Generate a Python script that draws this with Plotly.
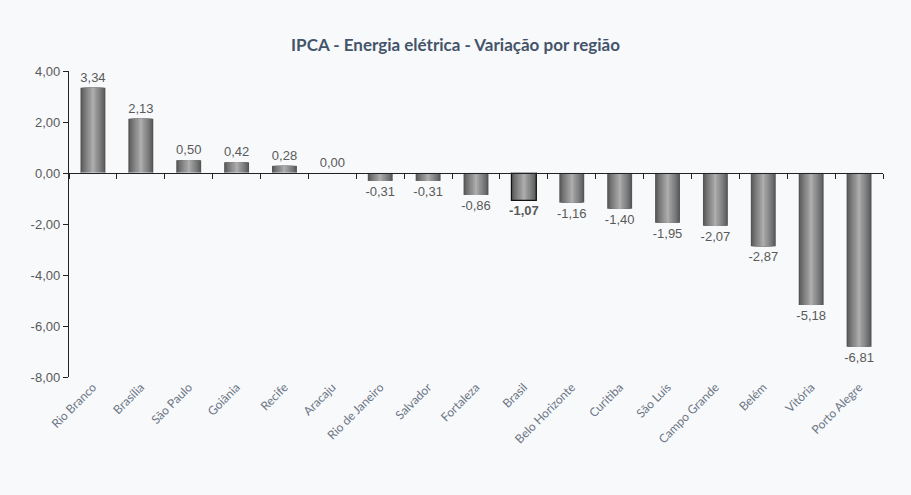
import plotly.graph_objects as go

categories = ["Rio Branco", "Brasília", "São Paulo", "Goiânia", "Recife", "Aracaju",
              "Rio de Janeiro", "Salvador", "Fortaleza", "Brasil", "Belo Horizonte",
              "Curitiba", "São Luís", "Campo Grande", "Belém", "Vitória", "Porto Alegre"]
values = [3.34, 2.13, 0.50, 0.42, 0.28, 0.00, -0.31, -0.31, -0.86, -1.07, -1.16,
          -1.40, -1.95, -2.07, -2.87, -5.18, -6.81]
highlight = "Brasil"
y_ticks = [4, 2, 0, -2, -4, -6, -8]
y_ticktext = [("%.2f" % v).replace(".", ",") for v in y_ticks]

fig = go.Figure()

# gradient simulation: overlaid layers, dark edges to light centre
n_layers = 10
max_w = 0.52
dark = (85, 85, 85)
light = (172, 172, 172)
for i in range(n_layers):
    t = i / (n_layers - 1)
    w = max_w * (1 - t) + 0.02 * t
    c = tuple(int(dark[k] + (light[k] - dark[k]) * (t ** 0.8)) for k in range(3))
    fig.add_trace(go.Bar(
        x=categories, y=values, width=w,
        marker=dict(color="rgb(%d,%d,%d)" % c, line=dict(width=0)),
        hoverinfo="skip", showlegend=False,
    ))

labels = []
for c, v in zip(categories, values):
    s = ("%.2f" % v).replace(".", ",")
    labels.append("<b>%s</b>" % s if c == highlight else s)

fig.add_trace(go.Bar(
    x=categories, y=values, width=max_w,
    marker=dict(color="rgba(0,0,0,0)",
                line=dict(color="#111111",
                          width=[1.2 if c == highlight else 0 for c in categories])),
    text=labels, textposition="outside", texttemplate="%{text}",
    constraintext="none",
    textfont=dict(family="Liberation Sans, Arial", size=13, color="#595959"),
    cliponaxis=False, showlegend=False,
))

# invisible trace on xaxis2 for zero-line axis with boundary ticks
fig.add_trace(go.Bar(x=categories, y=[0] * len(categories), xaxis="x2",
                     marker=dict(color="rgba(0,0,0,0)"), hoverinfo="skip",
                     showlegend=False))

lo, hi = -8, 4
fig.update_layout(
    width=911, height=495,
    margin=dict(l=69, r=28, t=71, b=118),
    paper_bgcolor="#f8f9fb", plot_bgcolor="#f8f9fb",
    barmode="overlay", bargap=0.48,
    title=dict(text="<b>IPCA - Energia elétrica - Variação por região</b>",
               x=0.5, xanchor="center", y=0.91, yanchor="middle",
               font=dict(family="Lato, Open Sans", size=17, color="#44546a")),
    xaxis=dict(type="category", categoryorder="array", categoryarray=categories,
               showline=False, ticks="", showgrid=False, tickangle=-45,
               tickfont=dict(family="Lato, Open Sans", size=12, color="#6b7585")),
    xaxis2=dict(type="category", categoryorder="array", categoryarray=categories,
                overlaying="x", anchor="free", position=(0 - lo) / (hi - lo),
                showline=True, linecolor="#222222", linewidth=1.3,
                ticks="outside", tickson="boundaries", ticklen=5, tickcolor="#222222",
                showticklabels=False, showgrid=False, side="bottom"),
    yaxis=dict(range=[lo, hi], tickvals=y_ticks, ticktext=y_ticktext,
               showline=True, linecolor="#222222", linewidth=1.3,
               ticks="outside", ticklen=5, tickcolor="#222222",
               showgrid=False, zeroline=False,
               tickfont=dict(family="Liberation Sans, Arial", size=13, color="#595959")),
)

fig.write_html("out.html", config={"displayModeBar": False},
               post_script="document.body.style.margin='0';"
                           "document.body.style.background='#f8f9fb';")
